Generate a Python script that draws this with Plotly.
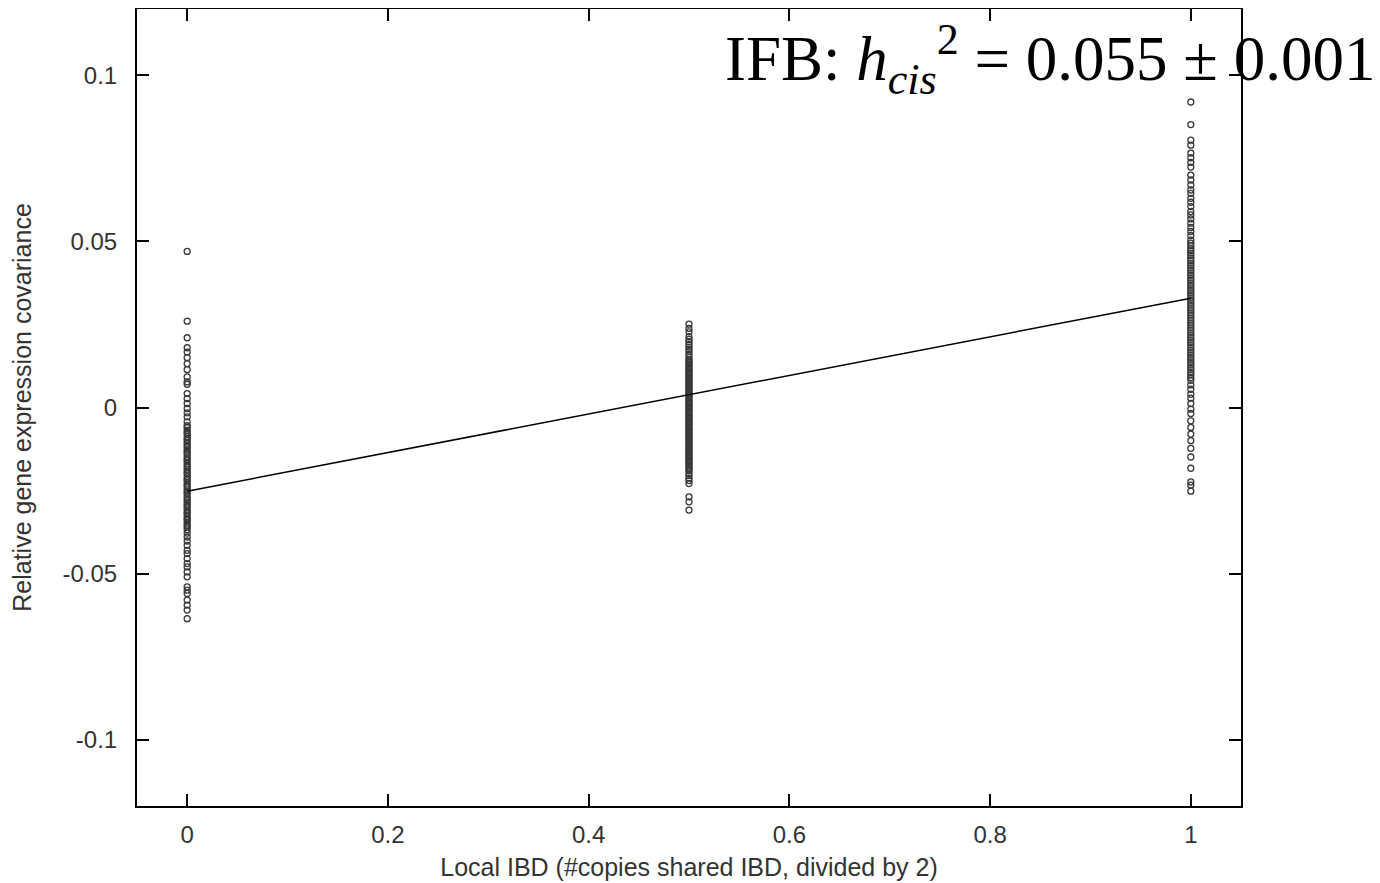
import plotly.graph_objects as go

# --- data ---
ibd_levels = [0.0, 0.5, 1.0]

cov_ibd0 = [0.047, 0.026, 0.021, 0.018, 0.0167, 0.015, 0.0132, 0.0114, 0.0092, 0.0077,
            0.007, 0.0042, 0.0027, 0.0012, -0.0003, -0.0016, -0.0028, -0.0043,
            -0.0055, -0.006, -0.0068, -0.0075, -0.008, -0.0088, -0.0095, -0.010, -0.0108,
            -0.0115, -0.012, -0.0128, -0.0135, -0.014, -0.0148, -0.0155, -0.016, -0.0168,
            -0.0175, -0.018, -0.0188, -0.0195, -0.020, -0.0208, -0.0215, -0.022, -0.0228,
            -0.0235, -0.024, -0.0248, -0.0255, -0.026, -0.0268, -0.0275, -0.028, -0.0288,
            -0.0295, -0.030, -0.0308, -0.0315, -0.032, -0.0328, -0.0335, -0.034, -0.0348,
            -0.0355, -0.036, -0.0368, -0.0378, -0.039, -0.0402, -0.0415, -0.043, -0.044,
            -0.0455, -0.047, -0.048, -0.0495, -0.051, -0.054, -0.055, -0.056, -0.058,
            -0.0595, -0.061, -0.0636]

cov_ibd05 = [0.0251, 0.0238, 0.0228, 0.0213, 0.0205, 0.0198, 0.019, 0.0182, 0.0175, 0.0168,
             0.016, 0.0152, 0.0145, 0.014, 0.0135, 0.013, 0.0125, 0.012, 0.0115, 0.011,
             0.0105, 0.010, 0.0095, 0.009, 0.0085, 0.008, 0.0075, 0.007, 0.0065, 0.006,
             0.0055, 0.005, 0.0045, 0.004, 0.0035, 0.003, 0.0025, 0.002, 0.0015, 0.001,
             0.0005, 0.0, -0.0005, -0.001, -0.0015, -0.002, -0.0025, -0.003, -0.0035,
             -0.004, -0.0045, -0.005, -0.0055, -0.006, -0.0065, -0.007, -0.0075, -0.008,
             -0.0085, -0.009, -0.0095, -0.010, -0.0105, -0.011, -0.0115, -0.012, -0.0125,
             -0.013, -0.0135, -0.014, -0.0145, -0.015, -0.0155, -0.016, -0.0165, -0.017,
             -0.0175, -0.018, -0.0185, -0.019, -0.0198, -0.0205, -0.0213, -0.022, -0.0229,
             -0.0269, -0.0284, -0.0309]

cov_ibd1 = [0.092, 0.0852, 0.0805, 0.079, 0.0766, 0.0752, 0.0738, 0.0724, 0.070, 0.0685,
            0.067, 0.0655, 0.0645, 0.063, 0.0618, 0.0605, 0.059, 0.058, 0.0568, 0.0555,
            0.0542, 0.053, 0.0518, 0.0504, 0.0495, 0.0488, 0.048, 0.0472, 0.0465, 0.0458,
            0.045, 0.0443, 0.0435, 0.0428, 0.042, 0.0413, 0.0405, 0.0398, 0.039, 0.0383,
            0.0375, 0.0368, 0.036, 0.0353, 0.0345, 0.0338, 0.033, 0.0323, 0.0315, 0.0308,
            0.03, 0.0293, 0.0285, 0.0278, 0.027, 0.0263, 0.0255, 0.0248, 0.024, 0.0233,
            0.0225, 0.0218, 0.021, 0.0203, 0.0195, 0.0188, 0.018, 0.0173, 0.0165, 0.0158,
            0.015, 0.0143, 0.0135, 0.0128, 0.012, 0.0113, 0.0105, 0.0098, 0.009, 0.0082,
            0.0068, 0.0055, 0.004, 0.0028, 0.0012, -0.0005, -0.0018, -0.004, -0.006, -0.008,
            -0.010, -0.0123, -0.0149, -0.0183, -0.0224, -0.0234, -0.0252]

fit_x = [0.0, 1.0]
fit_y = [-0.0252, 0.0329]

x_ticks = [0, 0.2, 0.4, 0.6, 0.8, 1]
x_ticklabels = ["0", "0.2", "0.4", "0.6", "0.8", "1"]
y_ticks = [-0.1, -0.05, 0, 0.05, 0.1]
y_ticklabels = ["-0.1", "-0.05", "0", "0.05", "0.1"]

# --- figure ---
fig = go.Figure()
marker_style = dict(symbol="circle-open", size=6, color="#383838", line=dict(width=1.3, color="#383838"))
for lvl, vals in zip(ibd_levels, [cov_ibd0, cov_ibd05, cov_ibd1]):
    fig.add_trace(go.Scatter(x=[lvl] * len(vals), y=vals, mode="markers",
                             marker=marker_style, showlegend=False, hoverinfo="y"))

fig.add_trace(go.Scatter(x=fit_x, y=fit_y, mode="lines",
                         line=dict(color="black", width=1.5), showlegend=False))

tick_font = dict(family="Liberation Sans, Arial, sans-serif", size=24, color="#333333")
title_font = dict(family="Liberation Sans, Arial, sans-serif", size=25, color="#333333")

fig.update_layout(
    width=1372, height=875,
    margin=dict(l=129, r=139, t=1, b=77),
    paper_bgcolor="white", plot_bgcolor="white",
    font=tick_font,
    xaxis=dict(range=[-0.05, 1.05], tickvals=x_ticks, ticktext=x_ticklabels,
               ticks="inside", ticklen=12, tickwidth=2, tickcolor="black",
               showline=True, linecolor="black", linewidth=2, mirror="ticks",
               showgrid=False, zeroline=False, ticklabelstandoff=6, tickfont=tick_font,
               automargin=False,
               title=dict(text="Local IBD (#copies shared IBD, divided by 2)", standoff=12,
                          font=title_font)),
    yaxis=dict(range=[-0.12, 0.12], tickvals=y_ticks, ticktext=y_ticklabels,
               ticks="inside", ticklen=12, tickwidth=2, tickcolor="black",
               showline=True, linecolor="black", linewidth=2, mirror="ticks",
               showgrid=False, zeroline=False, ticklabelstandoff=13, tickfont=tick_font,
               automargin=False,
               title=dict(text="Relative gene expression covariance", standoff=48,
                          font=title_font)),
    annotations=[dict(
        text="IFB: <i>h</i><sub><i>cis</i></sub><sup>2</sup> = 0.055 ± 0.001",
        xref="paper", yref="paper", x=0.531, y=0.995,
        xanchor="left", yanchor="top", showarrow=False,
        font=dict(family="Liberation Serif, Times New Roman, serif", size=63, color="black"),
    )],
)

fig.write_html("out.html")
